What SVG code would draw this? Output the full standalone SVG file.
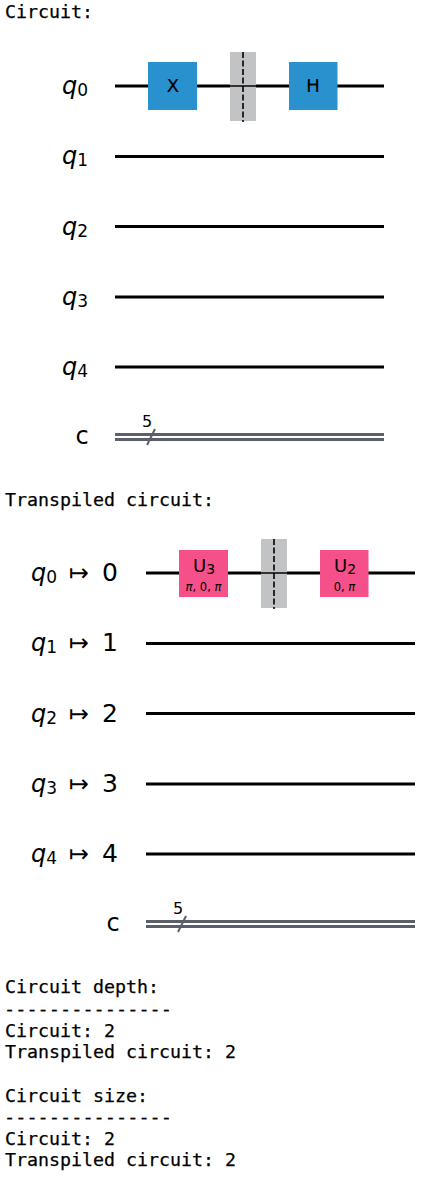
<svg xmlns="http://www.w3.org/2000/svg" width="438" height="1179" viewBox="0 0 438 1179">
<style>
.mono{font-family:"DejaVu Sans Mono","Liberation Mono",monospace;font-size:18.3px;fill:#000;stroke:#000;stroke-width:.25}
.lab{font-family:"DejaVu Sans",sans-serif;font-size:24px;fill:#000}
.num{font-family:"DejaVu Sans",sans-serif;font-size:25px;fill:#000}
.math{font-family:"DejaVu Sans",sans-serif;font-size:24px;font-style:italic;fill:#000}
.sub{font-family:"DejaVu Sans",sans-serif;font-size:17px;fill:#000;font-style:normal}
.gate{font-family:"DejaVu Sans",sans-serif;font-size:18px;fill:#000;text-anchor:middle;stroke:#000;stroke-width:.2}
.ugate{font-family:"DejaVu Sans",sans-serif;font-size:18px;fill:#000;text-anchor:middle}
.par{font-family:"DejaVu Sans",sans-serif;font-size:11.5px;fill:#000;text-anchor:middle}
.wire{stroke:#000;stroke-width:3;fill:none}
.thin{stroke:#333;stroke-width:2;fill:none}
.cw{stroke:#5a5f6b;stroke-width:3;fill:none}
.slash{stroke:#5a5f6b;stroke-width:2;fill:none}
.bar{fill:#c2c3c5}
.dash{stroke:#000;stroke-width:1.6;stroke-dasharray:6 2.500;fill:none}
.blue{fill:#2a91cf}
.pink{fill:#f5508a}
.five{font-family:"DejaVu Sans",sans-serif;font-size:16px;fill:#000;text-anchor:middle}
</style>
<rect width="438" height="1179" fill="#fff"/>
<g id="text-output">
<text class="mono" x="5" y="18">Circuit:</text>
<text class="mono" x="5" y="506">Transpiled circuit:</text>
<text class="mono" x="5" y="993">Circuit depth:</text>
<text class="mono" x="4" y="1015" textLength="168" lengthAdjust="spacingAndGlyphs">---------------</text>
<text class="mono" x="5" y="1036.500">Circuit: 2</text>
<text class="mono" x="5" y="1058">Transpiled circuit: 2</text>
<text class="mono" x="5" y="1101.500">Circuit size:</text>
<text class="mono" x="4" y="1123" textLength="168" lengthAdjust="spacingAndGlyphs">---------------</text>
<text class="mono" x="5" y="1144.500">Circuit: 2</text>
<text class="mono" x="5" y="1166">Transpiled circuit: 2</text>
</g>
<g id="connectors">
<path class="wire" d="M115 86H384M115 156.500H384M115 226.500H384M115 297H384M115 367H384"/>
<path class="cw" d="M115 434.500H384M115 439.500H384"/>
<path class="slash" d="M147 445L155 429"/>
<path class="wire" d="M146 573H415M146 643.500H415M146 713.500H415M146 784H415M146 854H415"/>
<path class="cw" d="M146 921.500H415M146 926.500H415"/>
<path class="slash" d="M178 932L186 916"/>
</g>
<g id="c1-labels">
<text class="math" x="62" y="94">q<tspan class="sub" dy="2">0</tspan></text>
<text class="math" x="62" y="164">q<tspan class="sub" dy="2">1</tspan></text>
<text class="math" x="62" y="234.500">q<tspan class="sub" dy="2">2</tspan></text>
<text class="math" x="62" y="305">q<tspan class="sub" dy="2">3</tspan></text>
<text class="math" x="62" y="375">q<tspan class="sub" dy="2">4</tspan></text>
<text class="lab" x="75.500" y="444">c</text>
<text class="five" x="147" y="427">5</text>
</g>
<g id="gate-x"><rect class="blue" x="148" y="62" width="49" height="48"/><text class="gate" x="173" y="92">X</text></g>
<g id="barrier-1"><rect class="bar" x="230" y="52" width="26" height="69"/><path class="thin" d="M230 86H256"/><path class="dash" d="M243 52V122"/></g>
<g id="gate-h"><rect class="blue" x="289" y="62" width="48.500" height="48"/><text class="gate" x="313" y="92">H</text></g>
<g id="c2-labels">
<text class="math" x="31" y="581">q<tspan class="sub" dy="2">0</tspan></text><text class="lab" x="69" y="581">↦</text><text class="num" x="102" y="581">0</text>
<text class="math" x="31" y="651">q<tspan class="sub" dy="2">1</tspan></text><text class="lab" x="69" y="651">↦</text><text class="num" x="102" y="651">1</text>
<text class="math" x="31" y="721.500">q<tspan class="sub" dy="2">2</tspan></text><text class="lab" x="69" y="721.500">↦</text><text class="num" x="102" y="721.500">2</text>
<text class="math" x="31" y="792">q<tspan class="sub" dy="2">3</tspan></text><text class="lab" x="69" y="792">↦</text><text class="num" x="102" y="792">3</text>
<text class="math" x="31" y="862">q<tspan class="sub" dy="2">4</tspan></text><text class="lab" x="69" y="862">↦</text><text class="num" x="102" y="862">4</text>
<text class="lab" x="106.500" y="931">c</text>
<text class="five" x="178" y="914">5</text>
</g>
<g id="gate-u3"><rect class="pink" x="179" y="550" width="49" height="47"/><text class="ugate" x="204" y="572">U<tspan font-size="14" dy="2">3</tspan></text><text class="par" x="203.500" y="591"><tspan font-style="italic">π</tspan>, 0, <tspan font-style="italic">π</tspan></text></g>
<g id="barrier-2"><rect class="bar" x="261" y="539" width="26" height="69"/><path class="thin" d="M261 573H287"/><path class="dash" d="M274 539V609"/></g>
<g id="gate-u2"><rect class="pink" x="320" y="550" width="48.500" height="47"/><text class="ugate" x="345" y="572">U<tspan font-size="14" dy="2">2</tspan></text><text class="par" x="344.500" y="591">0, <tspan font-style="italic">π</tspan></text></g>
</svg>
